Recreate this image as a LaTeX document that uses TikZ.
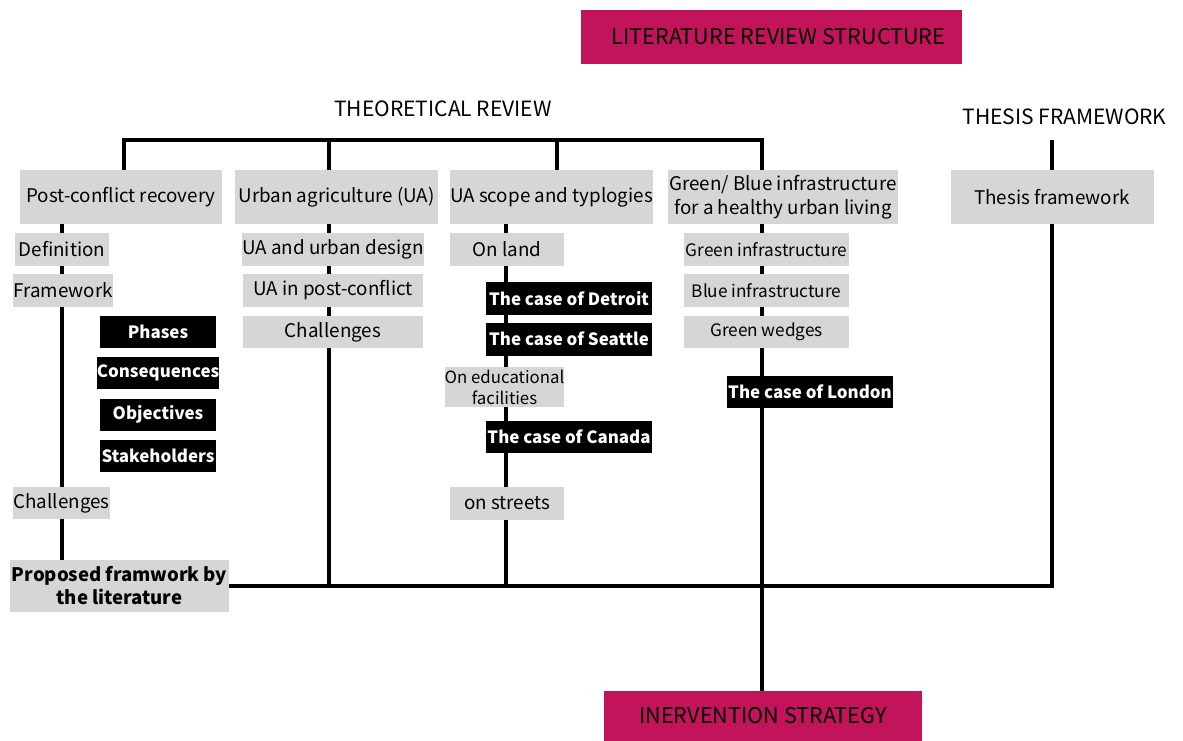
\documentclass[tikz,border=0pt]{standalone}
\usepackage{fontspec}
\setmainfont{Noto Sans CJK KR}
\usetikzlibrary{backgrounds}
\definecolor{boxgray}{RGB}{214,214,214}
\definecolor{accent}{RGB}{194,20,90}
\begin{document}
\begin{tikzpicture}[x=1pt,y=-1pt,
  box/.style={fill=boxgray, text=black, inner sep=0pt, align=center, font=\fontsize{18.8}{22}\selectfont},
  sub/.style={box, font=\fontsize{17.2}{20}\selectfont},
  dark/.style={fill=black, text=white, inner sep=0pt, align=center, font=\fontsize{16.9}{19}\selectfont\bfseries},
  banner/.style={fill=accent, text=black, inner sep=0pt, font=\fontsize{21.6}{25}\selectfont},
  heading/.style={inner sep=0pt, font=\fontsize{21}{24}\selectfont},
  conn/.style={line width=3.4pt, draw=black}
]
\useasboundingbox (0,0) rectangle (1183,740);

% banners and headings
\node[banner, minimum width=381, minimum height=54] (title) at (771.5,37) {\hspace*{14pt}LITERATURE REVIEW STRUCTURE};
\node[banner, minimum width=318, minimum height=50] (inter) at (763,716) {INERVENTION STRATEGY};
\node[heading] (theo) at (443,109) {THEORETICAL REVIEW};
\node[heading] (thesishd) at (1064.5,117) {THESIS FRAMEWORK};

% column heads
\node[box, minimum width=202, minimum height=54] (pcr) at (121,197) {Post-conflict recovery};
\node[box, minimum width=203, minimum height=54] (uag) at (336.5,197) {Urban agriculture (UA)};
\node[box, minimum width=203, minimum height=54] (scope) at (551.5,197) {UA scope and typlogies};
\node[box, minimum width=230, minimum height=54, font=\fontsize{18.8}{24}\selectfont] (gbi) at (783,197) {Green/ Blue infrastructure\\for a healthy urban living};
\node[box, minimum width=203, minimum height=54] (thesis) at (1052,197) {Thesis framework};

% post-conflict recovery
\node[box, minimum width=94, minimum height=33] (def) at (62,249.5) {Definition};
\node[box, minimum width=96, minimum height=33] (fw) at (63,290.5) {Framework};
\node[dark, minimum width=116, minimum height=32] (phases) at (158,332) {Phases};
\node[dark, minimum width=116, minimum height=32] (cons) at (158,373) {Consequences};
\node[dark, minimum width=116, minimum height=32] (obj) at (158,414.5) {Objectives};
\node[dark, minimum width=116, minimum height=32] (stake) at (158,456) {Stakeholders};
\node[box, minimum width=97, minimum height=32] (chal1) at (61.5,503) {Challenges};
\node[box, minimum width=219, minimum height=52, font=\fontsize{18.6}{23}\selectfont\bfseries] (prop) at (119.5,586) {Proposed framwork by\\the literature};

% urban agriculture
\node[box, minimum width=180, minimum height=33] (uad) at (333,249.5) {UA and urban design};
\node[box, minimum width=180, minimum height=33] (uapc) at (333,290) {UA in post-conflict};
\node[box, minimum width=180, minimum height=32] (chal2) at (333,332) {Challenges};

% UA scope and typologies
\node[box, minimum width=114, minimum height=33] (land) at (507,249.5) {On land};
\node[dark, minimum width=166, minimum height=33] (detroit) at (569,298.5) {The case of Detroit};
\node[dark, minimum width=166, minimum height=33] (seattle) at (569,339) {The case of Seattle};
\node[box, minimum width=119, minimum height=40, font=\fontsize{16.8}{21}\selectfont] (edu) at (504.5,387) {On educational\\facilities};
\node[dark, minimum width=166, minimum height=32] (canada) at (569,437) {The case of Canada};
\node[box, minimum width=114, minimum height=33] (streets) at (507,503.5) {on streets};

% green / blue infrastructure
\node[sub, minimum width=165, minimum height=33] (gi) at (766.5,249.5) {Green infrastructure};
\node[sub, minimum width=165, minimum height=33] (bi) at (766.5,290.5) {Blue infrastructure};
\node[sub, minimum width=165, minimum height=32] (gw) at (766.5,332) {Green wedges};
\node[dark, minimum width=166, minimum height=32] (london) at (810,392) {The case of London};

% junction points of the connector tree
\coordinate (tl) at (124,140);
\coordinate (t2) at (329,140);
\coordinate (t3) at (557,140);
\coordinate (tr) at (762,140);
\coordinate (ttop) at (1052,140);
\coordinate (x1) at (62,0);
\coordinate (x2) at (329,0);
\coordinate (x3) at (506,0);
\coordinate (x4) at (762,0);

\begin{scope}[on background layer]
  \draw[conn] (pcr.north -| tl) -- (tl) -- (tr) -- (gbi.north -| tr);
  \draw[conn] (t2) -- (uag.north -| t2);
  \draw[conn] (t3) -- (scope.north -| t3);
  \draw[conn] (pcr.south -| x1) -- (prop.north -| x1);
  \draw[conn] (uag.south -| x2) -- (prop.east -| x2);
  \draw[conn] (scope.south -| x3) -- (prop.east -| x3);
  \draw[conn] (gbi.south -| x4) -- (inter.north -| x4);
  \draw[conn] (ttop) -- (thesis.north);
  \draw[conn] (thesis.south) |- (prop.east);
\end{scope}
\end{tikzpicture}
\end{document}
